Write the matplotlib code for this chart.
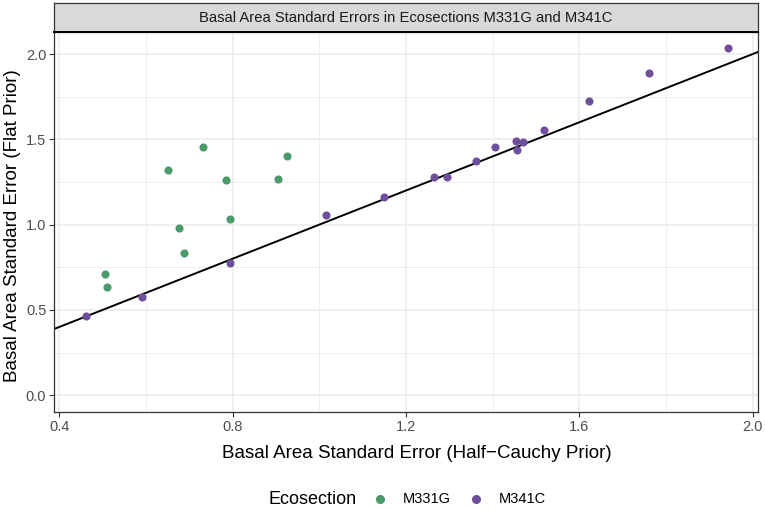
import matplotlib
matplotlib.use("Agg")
import matplotlib.pyplot as plt
from matplotlib.lines import Line2D

plt.rcParams['font.family'] = ['Liberation Sans', 'DejaVu Sans']

# M331G
g_x = [0.505, 0.510, 0.651, 0.732, 0.785, 0.794, 0.677, 0.689, 0.904, 0.925]
g_y = [0.709, 0.636, 1.322, 1.453, 1.260, 1.033, 0.980, 0.834, 1.269, 1.404]
# M341C
p_x = [0.462, 0.592, 0.794, 1.015, 1.150, 1.265, 1.294, 1.362, 1.405, 1.453,
       1.455, 1.471, 1.518, 1.621, 1.761, 1.942]
p_y = [0.463, 0.576, 0.774, 1.055, 1.160, 1.278, 1.279, 1.375, 1.453, 1.490,
       1.437, 1.486, 1.555, 1.726, 1.890, 2.033]

groups = ["M331G", "M341C"]
colors = ["#4A9A6A", "#6F4F9C"]
x_ticks = [0.4, 0.8, 1.2, 1.6, 2.0]
x_minor = [0.6, 1.0, 1.4, 1.8]
y_ticks = [0.0, 0.5, 1.0, 1.5, 2.0]
y_minor = [0.25, 0.75, 1.25, 1.75]

W, H = 765, 509
fig = plt.figure(figsize=(W / 100, H / 100), dpi=100)
L, R, T, B = 54, 758, 32, 412.3
ax = fig.add_axes([L / W, 1 - B / H, (R - L) / W, (B - T) / H])

ax.set_xlim(0.388, 2.012)
ax.set_ylim(-0.1, 2.129)

for v in x_ticks:
    ax.axvline(v, color="#EBEBEB", lw=1.1, zorder=0)
for v in x_minor:
    ax.axvline(v, color="#EBEBEB", lw=0.55, zorder=0)
for v in y_ticks:
    ax.axhline(v, color="#EBEBEB", lw=1.1, zorder=0)
for v in y_minor:
    ax.axhline(v, color="#EBEBEB", lw=0.55, zorder=0)

ax.axline((0, 0), slope=1, color="black", lw=1.4, zorder=2)

ax.scatter(g_x, g_y, s=34, color=colors[0], zorder=3, linewidths=0)
ax.scatter(p_x, p_y, s=34, color=colors[1], zorder=3, linewidths=0)

ax.set_xticks(x_ticks)
ax.set_xticklabels(["0.4", "0.8", "1.2", "1.6", "2.0"])
ax.set_yticks(y_ticks)
ax.set_yticklabels(["0.0", "0.5", "1.0", "1.5", "2.0"])
ax.tick_params(axis="both", direction="out", length=3.5, width=0.8,
               color="#333333", labelcolor="#4D4D4D", labelsize=10.5, pad=2)

for s in ax.spines.values():
    s.set_color("#333333")
    s.set_linewidth(0.9)

fig.text(417 / W, 1 - 453 / H, "Basal Area Standard Error (Half\u2212Cauchy Prior)",
         fontsize=13.5, ha="center", va="center")
fig.text(12.5 / W, 1 - 226 / H, "Basal Area Standard Error (Flat Prior)",
         fontsize=13.5, ha="center", va="center", rotation=90)

# strip
sax = fig.add_axes([L / W, 1 - T / H, (R - L) / W, (T - 3) / H])
sax.set_xlim(0, 1)
sax.set_ylim(0, 1)
sax.set_facecolor("#D9D9D9")
sax.set_xticks([])
sax.set_yticks([])
for s in sax.spines.values():
    s.set_color("#333333")
    s.set_linewidth(0.9)
sax.spines["bottom"].set_color("black")
sax.spines["bottom"].set_linewidth(1.4)
sax.text(0.5, 0.5, "Basal Area Standard Errors in Ecosections M331G and M341C",
         ha="center", va="center", fontsize=10.6, color="#1A1A1A")

# legend
ly = 1 - 499 / H
fig.text(268 / W, ly, "Ecosection", fontsize=13, ha="left", va="center")
for gx, tx, c, g in [(380, 403, colors[0], groups[0]), (476, 499, colors[1], groups[1])]:
    fig.add_artist(Line2D([gx / W], [ly], marker="o", ls="", color=c, markersize=5.5,
                          transform=fig.transFigure))
    fig.text(tx / W, ly, g, fontsize=10.5, ha="left", va="center")

fig.savefig("out.png", dpi=100, facecolor="white")
